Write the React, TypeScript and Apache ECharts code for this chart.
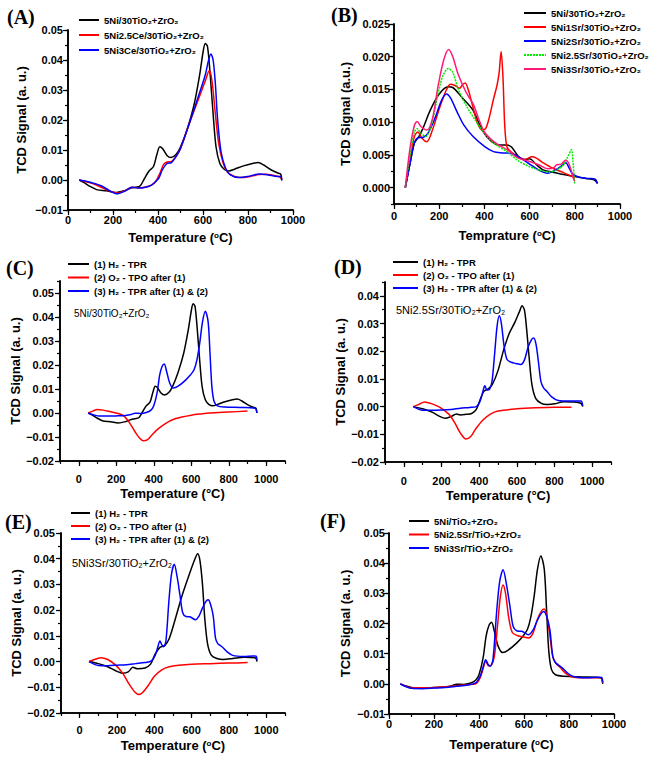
import React, { useEffect, useRef } from "react";
import * as echarts from "echarts";

type Pt = [number, number];

// ---------- Panel A ----------
const ni30Tpr: Pt[] = [[50,0],[70,-0.0008],[100,-0.0022],[130,-0.0033],[170,-0.0036],[210,-0.0042],[250,-0.0036],[280,-0.0027],[300,-0.0024],[320,-0.002],[340,0.0005],[360,0.003],[380,0.0045],[395,0.0085],[408,0.0111],[420,0.0105],[440,0.0082],[458,0.0075],[480,0.0085],[500,0.011],[530,0.017],[560,0.025],[585,0.035],[600,0.0425],[610,0.0455],[620,0.0445],[632,0.035],[645,0.022],[658,0.011],[675,0.0055],[695,0.0035],[715,0.003],[740,0.0036],[780,0.0047],[820,0.0055],[845,0.0058],[870,0.005],[900,0.0035],[930,0.0024],[945,0.002],[950,0]];
const ce25Tpr: Pt[] = [[50,0],[80,-0.0006],[110,-0.0012],[150,-0.0025],[190,-0.0038],[220,-0.0043],[250,-0.0037],[285,-0.0024],[310,-0.0026],[340,-0.0024],[370,-0.0017],[390,-0.0005],[410,0.0025],[425,0.0052],[440,0.006],[460,0.0062],[480,0.0078],[500,0.0105],[540,0.019],[580,0.027],[610,0.033],[628,0.0365],[640,0.033],[655,0.022],[670,0.012],[690,0.0055],[710,0.0025],[740,0.0012],[770,0.0008],[810,0.0012],[850,0.0018],[880,0.0019],[910,0.0016],[940,0.0011],[950,0.0002]];
const ce3Tpr: Pt[] = [[50,0],[80,-0.0004],[110,-0.001],[150,-0.002],[190,-0.0038],[215,-0.0046],[250,-0.0038],[285,-0.0024],[310,-0.0027],[340,-0.0025],[370,-0.0018],[390,-0.0005],[405,0.0008],[420,0.0035],[440,0.0055],[460,0.0058],[480,0.0078],[500,0.0105],[540,0.019],[580,0.028],[610,0.035],[625,0.04],[635,0.042],[645,0.04],[655,0.032],[665,0.02],[680,0.0095],[700,0.004],[720,0.0018],[760,0.0008],[800,0.0012],[850,0.002],[890,0.0017],[930,0.0012],[945,0.0012],[950,-0.0002]];

// ---------- Panel B ----------
const bNi: Pt[] = [[50,0],[70,0.0035],[90,0.0068],[110,0.0078],[130,0.0092],[160,0.0118],[200,0.0143],[240,0.0154],[260,0.0153],[300,0.0138],[350,0.0118],[390,0.0088],[430,0.0071],[470,0.0065],[500,0.0065],[520,0.0062],[550,0.0048],[575,0.0043],[600,0.0044],[630,0.0035],[660,0.0027],[700,0.0024],[750,0.002],[800,0.0017],[850,0.0014],[885,0.0012],[900,0.0007]];
const bSr1: Pt[] = [[50,0],[70,0.004],[90,0.0078],[105,0.0085],[125,0.0075],[145,0.007],[170,0.0088],[200,0.012],[230,0.0148],[250,0.0158],[270,0.0156],[290,0.0152],[305,0.0158],[315,0.016],[330,0.0148],[350,0.0122],[370,0.0098],[390,0.0088],[405,0.009],[420,0.0105],[440,0.0135],[455,0.0155],[465,0.0175],[474,0.0208],[482,0.017],[490,0.0095],[500,0.0062],[520,0.0054],[550,0.0047],[580,0.0043],[610,0.0047],[630,0.0045],[660,0.0038],[700,0.003],[750,0.0023],[800,0.0015]];
const bSr2: Pt[] = [[50,0],[70,0.0035],[90,0.0068],[105,0.0076],[130,0.0077],[150,0.0083],[180,0.0105],[210,0.0133],[232,0.0143],[250,0.0137],[280,0.0115],[310,0.0095],[350,0.0078],[400,0.0063],[440,0.0055],[480,0.0053],[520,0.0052],[560,0.0045],[600,0.0036],[640,0.0027],[680,0.0022],[710,0.0026],[740,0.0033],[760,0.0038],[775,0.003],[790,0.0021],[820,0.0016],[860,0.0014],[890,0.0013],[900,0.0006]];
const bSr25: Pt[] = [[50,0],[70,0.0048],[90,0.0085],[102,0.009],[120,0.0083],[140,0.0078],[165,0.0095],[190,0.0135],[215,0.017],[240,0.0182],[260,0.0176],[285,0.015],[320,0.0125],[360,0.0103],[400,0.0083],[450,0.0066],[500,0.0055],[550,0.0041],[600,0.0032],[650,0.0026],[690,0.0024],[720,0.0027],[750,0.0035],[770,0.0048],[785,0.0058],[792,0.004],[797,0.0015],[800,0.0005]];
const bSr3: Pt[] = [[50,0],[70,0.0058],[90,0.0095],[102,0.0101],[120,0.0093],[145,0.0088],[170,0.0105],[195,0.0155],[220,0.0195],[242,0.0211],[260,0.02],[285,0.0172],[320,0.0145],[350,0.0128],[375,0.0105],[400,0.0085],[450,0.0068],[500,0.0058],[550,0.0045],[600,0.004],[640,0.0035],[680,0.0029],[705,0.003],[720,0.0035],[740,0.0036],[760,0.0042],[772,0.0038],[785,0.0025],[795,0.0013],[800,0.001]];

// ---------- Panels C-F ----------
const ni30Tpo: Pt[] = [[50,0],[75,0.0008],[100,0.0015],[130,0.0012],[170,0.0005],[210,-0.0002],[240,-0.0012],[270,-0.004],[300,-0.0078],[325,-0.0105],[345,-0.0116],[365,-0.0112],[390,-0.0092],[420,-0.0068],[460,-0.0045],[500,-0.0028],[550,-0.0017],[600,-0.0009],[650,-0.0004],[700,0],[800,0.0004],[900,0.0008]];
const ni30Redo: Pt[] = [[50,0],[80,-0.0008],[110,-0.0013],[150,-0.0013],[200,-0.0012],[250,-0.001],[280,-0.0006],[300,-0.0001],[330,-0.0002],[360,0.0002],[385,0.0012],[400,0.003],[418,0.0085],[432,0.016],[445,0.0195],[456,0.0204],[468,0.0175],[485,0.0125],[505,0.0104],[530,0.0112],[567,0.0135],[595,0.0158],[615,0.018],[630,0.022],[645,0.029],[660,0.038],[675,0.0424],[690,0.038],[700,0.025],[710,0.011],[722,0.0048],[740,0.003],[780,0.0025],[860,0.0023],[940,0.002],[950,0]];
const sr25Tpr: Pt[] = [[50,0],[100,-0.0008],[150,-0.002],[190,-0.0035],[220,-0.0042],[250,-0.0036],[280,-0.0027],[300,-0.003],[330,-0.0028],[360,-0.0025],[385,-0.001],[405,0.0025],[425,0.0055],[450,0.0065],[470,0.008],[500,0.013],[530,0.0205],[560,0.0265],[590,0.0305],[615,0.0345],[628,0.0364],[640,0.035],[652,0.028],[665,0.018],[680,0.008],[700,0.003],[730,0.0012],[760,0.0008],[800,0.001],[850,0.0018],[900,0.0017],[940,0.0012],[950,0]];
const sr25Tpo: Pt[] = [[50,0],[80,0.0008],[110,0.0017],[150,0.001],[190,-0.0002],[240,-0.0028],[270,-0.0058],[300,-0.0095],[330,-0.0117],[355,-0.0108],[380,-0.0082],[420,-0.0048],[460,-0.0027],[500,-0.0016],[600,-0.0008],[700,-0.0004],[800,-0.0002],[890,-0.0002]];
const sr25Redo: Pt[] = [[50,0],[100,-0.0013],[150,-0.0013],[200,-0.0012],[250,-0.001],[300,-0.0006],[350,-0.0003],[385,0],[405,0.002],[418,0.005],[430,0.0075],[442,0.006],[455,0.0062],[468,0.009],[482,0.019],[495,0.029],[507,0.0328],[518,0.03],[532,0.022],[548,0.017],[570,0.016],[595,0.0156],[620,0.0152],[640,0.0168],[660,0.0215],[678,0.0242],[690,0.0248],[702,0.0225],[715,0.016],[728,0.009],[742,0.0068],[760,0.0055],[785,0.0035],[820,0.0022],[880,0.002],[940,0.002],[950,0.0003]];
const sr3Tpr: Pt[] = [[50,0],[100,-0.0008],[150,-0.002],[200,-0.0038],[230,-0.0045],[260,-0.004],[285,-0.0022],[310,-0.0028],[350,-0.0025],[380,-0.001],[405,0.003],[430,0.0055],[455,0.0062],[480,0.009],[510,0.016],[550,0.026],[590,0.0345],[618,0.04],[632,0.0419],[645,0.039],[658,0.03],[670,0.017],[685,0.007],[705,0.0025],[735,0.0012],[770,0.0008],[820,0.0012],[880,0.0017],[940,0.0015],[950,0]];
const sr3Tpo: Pt[] = [[50,0],[80,0.0008],[115,0.0015],[150,0.0008],[190,-0.0012],[230,-0.0045],[265,-0.0088],[295,-0.0118],[318,-0.0128],[340,-0.0118],[370,-0.009],[400,-0.0057],[440,-0.0032],[480,-0.002],[530,-0.0014],[600,-0.001],[700,-0.0008],[800,-0.0006],[900,-0.0004]];
const sr3Redo: Pt[] = [[50,0],[100,-0.0015],[150,-0.0016],[200,-0.0014],[250,-0.0012],[300,-0.0008],[350,-0.0004],[385,0.0003],[405,0.0025],[418,0.0055],[430,0.008],[440,0.0065],[450,0.0058],[462,0.008],[478,0.0235],[492,0.034],[507,0.0378],[522,0.033],[537,0.026],[552,0.019],[570,0.0175],[590,0.0174],[620,0.0163],[640,0.0178],[656,0.0205],[675,0.0232],[688,0.024],[700,0.0225],[715,0.018],[728,0.009],[740,0.007],[752,0.0063],[770,0.0053],[790,0.0038],[820,0.0024],[880,0.002],[930,0.0022],[945,0.0021],[950,0.0005]];

// ---------- Tick labels ----------
const xTicks = [0, 200, 400, 600, 800, 1000];
const yTicksA = [-0.01, 0, 0.01, 0.02, 0.03, 0.04, 0.05];
const yTicksB = [0, 0.005, 0.01, 0.015, 0.02, 0.025];
const yTicksC = [-0.02, -0.01, 0, 0.01, 0.02, 0.03, 0.04, 0.05];
const yTicksD = [-0.02, -0.01, 0, 0.01, 0.02, 0.03, 0.04];

// ---------- Names ----------
const S2 = "\u2082";
const nA = [`5Ni/30TiO${S2}+ZrO${S2}`, `5Ni2.5Ce/30TiO${S2}+ZrO${S2}`, `5Ni3Ce/30TiO${S2}+ZrO${S2}`];
const nB = [`5Ni/30TiO${S2}+ZrO${S2}`, `5Ni1Sr/30TiO${S2}+ZrO${S2}`, `5Ni2Sr/30TiO${S2}+ZrO${S2}`, `5Ni2.5Sr/30TiO${S2}+ZrO${S2}`, `5Ni3Sr/30TiO${S2}+ZrO${S2}`];
const nCyc = [`(1) H${S2} - TPR`, `(2) O${S2} - TPO after (1)`, `(3) H${S2} - TPR after (1) & (2)`];
const nF = [`5Ni/TiO${S2}+ZrO${S2}`, `5Ni2.5Sr/TiO${S2}+ZrO${S2}`, `5Ni3Sr/TiO${S2}+ZrO${S2}`];

const SANS = '"Liberation Sans", Arial, Helvetica, sans-serif';
const SERIF = '"Liberation Serif", "Times New Roman", serif';
const BLACK = "#000000", RED = "#ff0000", BLUE = "#0000ff", GREEN = "#00ee00", PINK = "#ff1a75";

interface SeriesSpec { name: string; data: Pt[]; color: string; dash?: any }
interface PanelSpec {
  grid: { left: number; top: number; width: number; height: number };
  x: [number, number]; y: [number, number]; yStep: number; yTicks: number[]; yDec: number;
  xLabelMargin: number; yLabelMargin: number; xNameGap: number; yNameGap: number;
  xName: string; yName: string;
  legend: { left: number; top: number; itemWidth: number; itemGap: number };
  series: SeriesSpec[];
}

const supName = (word: string) => `{t|${word} (}{s|o}{t|C)}`;

const panels: PanelSpec[] = [
  {
    grid: { left: 68, top: 30, width: 225, height: 180 }, x: [0, 1000], y: [-0.01, 0.05], yStep: 0.005, yTicks: yTicksA, yDec: 2,
    xLabelMargin: 4.5, yLabelMargin: 5, xNameGap: 21, yNameGap: 40, xName: supName("Temperature"), yName: "TCD Signal (a. u.)",
    legend: { left: 78, top: 15, itemWidth: 20, itemGap: 5 },
    series: [{ name: nA[0], data: ni30Tpr, color: BLACK }, { name: nA[1], data: ce25Tpr, color: RED }, { name: nA[2], data: ce3Tpr, color: BLUE }],
  },
  {
    grid: { left: 394, top: 24, width: 226, height: 180 }, x: [0, 1000], y: [-0.0025, 0.025], yStep: 0.0025, yTicks: yTicksB, yDec: 3,
    xLabelMargin: 6.5, yLabelMargin: 4, xNameGap: 25, yNameGap: 42, xName: supName("Temprature"), yName: "TCD Signal (a.u.)",
    legend: { left: 523, top: 8, itemWidth: 22, itemGap: 4 },
    series: [{ name: nB[0], data: bNi, color: BLACK }, { name: nB[1], data: bSr1, color: RED }, { name: nB[2], data: bSr2, color: BLUE }, { name: nB[3], data: bSr25, color: GREEN, dash: [2, 1] }, { name: nB[4], data: bSr3, color: PINK }],
  },
  {
    grid: { left: 60, top: 281, width: 225, height: 180 }, x: [-100, 1100], y: [-0.02, 0.055], yStep: 0.005, yTicks: yTicksC, yDec: 2,
    xLabelMargin: 12.5, yLabelMargin: 6, xNameGap: 26, yNameGap: 37.5, xName: "{t|Temperature (\u00B0C)}", yName: "TCD Signal (a. u.)",
    legend: { left: 67, top: 259, itemWidth: 21, itemGap: 3.5 },
    series: [{ name: nCyc[0], data: ni30Tpr, color: BLACK }, { name: nCyc[1], data: ni30Tpo, color: RED }, { name: nCyc[2], data: ni30Redo, color: BLUE }],
  },
  {
    grid: { left: 385, top: 282, width: 226, height: 180 }, x: [-100, 1100], y: [-0.02, 0.045], yStep: 0.005, yTicks: yTicksD, yDec: 2,
    xLabelMargin: 13, yLabelMargin: 6, xNameGap: 27, yNameGap: 38.5, xName: "{t|Temperature (\u00B0C)}", yName: "TCD Signal (a. u.)",
    legend: { left: 392, top: 257, itemWidth: 25, itemGap: 3 },
    series: [{ name: nCyc[0], data: sr25Tpr, color: BLACK }, { name: nCyc[1], data: sr25Tpo, color: RED }, { name: nCyc[2], data: sr25Redo, color: BLUE }],
  },
  {
    grid: { left: 61, top: 533, width: 224, height: 180 }, x: [-100, 1100], y: [-0.02, 0.05], yStep: 0.005, yTicks: yTicksC, yDec: 2,
    xLabelMargin: 11.5, yLabelMargin: 6, xNameGap: 26, yNameGap: 38.5, xName: supName("Temperature"), yName: "TCD Signal (a. u.)",
    legend: { left: 70, top: 508, itemWidth: 19, itemGap: 3 },
    series: [{ name: nCyc[0], data: sr3Tpr, color: BLACK }, { name: nCyc[1], data: sr3Tpo, color: RED }, { name: nCyc[2], data: sr3Redo, color: BLUE }],
  },
  {
    grid: { left: 389, top: 533, width: 225, height: 181 }, x: [0, 1000], y: [-0.01, 0.05], yStep: 0.005, yTicks: yTicksA, yDec: 2,
    xLabelMargin: 4.5, yLabelMargin: 4, xNameGap: 24, yNameGap: 37.5, xName: supName("Temperature"), yName: "TCD Signal (a. u.)",
    legend: { left: 408, top: 516, itemWidth: 20, itemGap: 3.5 },
    series: [{ name: nF[0], data: ni30Redo, color: BLACK }, { name: nF[1], data: sr25Redo, color: RED }, { name: nF[2], data: sr3Redo, color: BLUE }],
  },
];

const panelLetters = [
  { t: "(A)", x: 7, y: 17 }, { t: "(B)", x: 331, y: 15 }, { t: "(C)", x: 6, y: 268 },
  { t: "(D)", x: 334, y: 267 }, { t: "(E)", x: 5, y: 522 }, { t: "(F)", x: 320, y: 521 },
];
const sampleLabels = [
  { t: `5Ni/30TiO${S2}+ZrO${S2}`, x: 74, y: 313, size: 10 },
  { t: `5Ni2.5Sr/30TiO${S2}+ZrO${S2}`, x: 396, y: 310, size: 11 },
  { t: `5Ni3Sr/30TiO${S2}+ZrO${S2}`, x: 72, y: 563, size: 11 },
];

function fmt(dec: number) {
  return (v: number) => {
    const s = Math.abs(v) < 1e-12 ? (0).toFixed(dec) : v.toFixed(dec);
    return s.replace("-", "\u2212");
  };
}

function buildOption() {
  const grid: any[] = [], xAxis: any[] = [], yAxis: any[] = [], series: any[] = [], legend: any[] = [];
  const axisLine = { show: true, onZero: false, lineStyle: { color: "#000", width: 1.6 } };
  const tickStyle = { color: "#000", width: 1.2 };
  const labelBase = { fontSize: 11, fontWeight: "bold", color: "#000", fontFamily: SANS };
  const nameStyle = {
    fontSize: 13, fontWeight: "bold", color: "#000", fontFamily: SANS,
    rich: {
      t: { fontSize: 13, fontWeight: "bold", color: "#000", fontFamily: SANS },
      s: { fontSize: 8, fontWeight: "bold", color: "#000", fontFamily: SANS, verticalAlign: "top" },
    },
  };
  panels.forEach((p, gi) => {
    grid.push({ ...p.grid, containLabel: false, show: false });
    const xi = xAxis.length;
    xAxis.push({
      type: "value", gridIndex: gi, position: "bottom", min: p.x[0], max: p.x[1], interval: 100,
      axisLine, axisTick: { show: true, inside: false, length: 3, lineStyle: tickStyle },
      axisLabel: { ...labelBase, margin: p.xLabelMargin, customValues: xTicks, formatter: (v: number) => String(Math.round(v)) },
      splitLine: { show: false },
      name: p.xName, nameLocation: "middle", nameGap: p.xNameGap, nameTextStyle: nameStyle,
    });
    xAxis.push({
      type: "value", gridIndex: gi, position: "bottom", min: p.x[0], max: p.x[1], interval: 100,
      axisLine, axisTick: { show: true, inside: false, length: 5, lineStyle: tickStyle, customValues: xTicks },
      axisLabel: { show: false }, splitLine: { show: false },
    });
    const yi = yAxis.length;
    yAxis.push({
      type: "value", gridIndex: gi, position: "left", min: p.y[0], max: p.y[1], interval: p.yStep,
      axisLine, axisTick: { show: true, inside: false, length: 3, lineStyle: tickStyle },
      axisLabel: { ...labelBase, margin: p.yLabelMargin, customValues: p.yTicks, formatter: fmt(p.yDec) },
      splitLine: { show: false },
      name: p.yName, nameLocation: "middle", nameGap: p.yNameGap, nameRotate: 90,
      nameTextStyle: { fontSize: 13, fontWeight: "bold", color: "#000", fontFamily: SANS },
    });
    yAxis.push({
      type: "value", gridIndex: gi, position: "left", min: p.y[0], max: p.y[1], interval: p.yStep,
      axisLine, axisTick: { show: true, inside: false, length: 5, lineStyle: tickStyle, customValues: p.yTicks },
      axisLabel: { show: false }, splitLine: { show: false },
    });
    p.series.forEach((s) => {
      series.push({
        type: "line", name: s.name, xAxisIndex: xi, yAxisIndex: yi, data: s.data,
        symbol: "none", showSymbol: false, smooth: 0.3,
        lineStyle: { color: s.color, width: 1.5, type: s.dash || "solid" },
        itemStyle: { color: s.color }, emphasis: { disabled: true },
      });
    });
    legend.push({
      show: true, orient: "vertical", left: p.legend.left, top: p.legend.top, padding: 0,
      itemWidth: p.legend.itemWidth, itemHeight: 10, itemGap: p.legend.itemGap,
      selectedMode: false, data: p.series.map((s) => s.name),
      itemStyle: { opacity: 0, borderWidth: 0 },
      lineStyle: { width: 2 },
      textStyle: { fontSize: 9.5, fontWeight: "bold", color: "#000", fontFamily: SANS },
    });
  });
  const graphic: any[] = [];
  panelLetters.forEach((l) => graphic.push({
    type: "text", x: l.x, y: l.y,
    style: { text: l.t, fontSize: 20, fontWeight: "bold", fontFamily: SERIF, fill: "#000", verticalAlign: "middle", align: "left" },
  }));
  sampleLabels.forEach((l) => graphic.push({
    type: "text", x: l.x, y: l.y,
    style: { text: l.t, fontSize: l.size, fontWeight: "normal", fontFamily: SANS, fill: "#000", verticalAlign: "middle", align: "left" },
  }));
  return { animation: false, backgroundColor: "#ffffff", grid, xAxis, yAxis, series, legend, graphic };
}

export default function App() {
  const ref = useRef<HTMLDivElement>(null);
  useEffect(() => {
    if (!ref.current) return;
    const chart = echarts.init(ref.current, undefined, { renderer: "svg" });
    chart.setOption(buildOption() as any);
    return () => chart.dispose();
  }, []);
  return <div ref={ref} style={{ position: "fixed", left: 0, top: 0, width: 661, height: 758, background: "#fff" }} />;
}
